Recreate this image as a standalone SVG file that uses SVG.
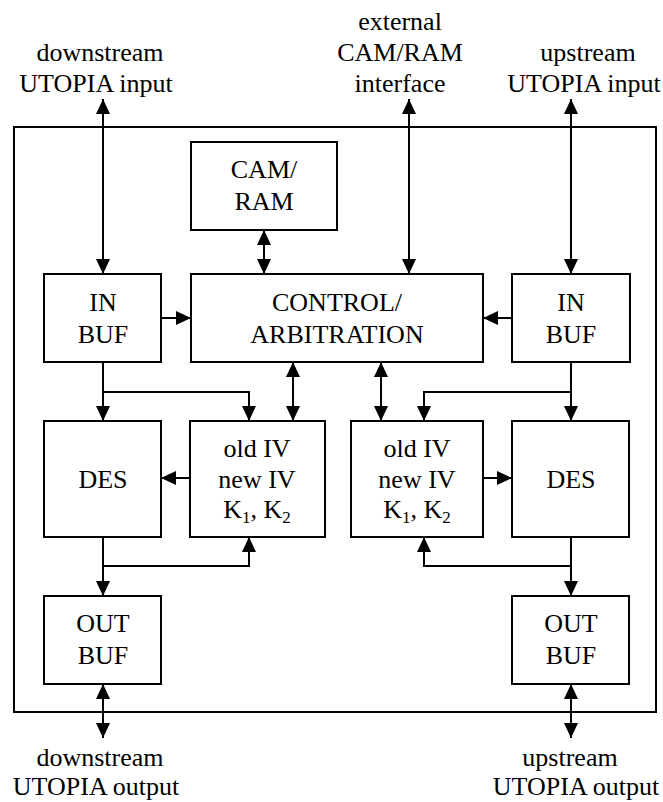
<svg xmlns="http://www.w3.org/2000/svg" width="663" height="802" viewBox="0 0 663 802" font-family="'Liberation Serif', 'DejaVu Serif', serif">
<style>
  .box { fill: #fff; stroke: #000; stroke-width: 2; }
  .frame { fill: none; stroke: #000; stroke-width: 2; }
  text { font-family: 'Liberation Serif', 'DejaVu Serif', serif; font-size: 26px; fill: #000; text-anchor: middle; }
  .sub { font-size: 17px; }
  .c { fill: none; stroke: #000; stroke-width: 2; }
  .a2 { marker-start: url(#ah); marker-end: url(#ah); }
  .a1 { marker-end: url(#ah); }
</style>
<defs>
  <marker id="ah" markerUnits="userSpaceOnUse" markerWidth="15" markerHeight="14" refX="15" refY="7" orient="auto-start-reverse" viewBox="0 0 15 14">
    <path d="M0,0 L15,7 L0,14 z" fill="#000"/>
  </marker>
</defs>
<rect width="663" height="802" fill="#fff"/>

<g id="frame">
  <rect class="frame" x="14" y="127" width="642" height="585"/>
</g>

<g id="labels">
  <text x="100" y="61">downstream</text>
  <text x="96" y="92">UTOPIA input</text>
  <text x="400" y="30">external</text>
  <text x="400" y="61">CAM/RAM</text>
  <text x="400" y="92">interface</text>
  <text x="588" y="61">upstream</text>
  <text x="584" y="92">UTOPIA input</text>
  <text x="100" y="766">downstream</text>
  <text x="96" y="795">UTOPIA output</text>
  <text x="570" y="766">upstream</text>
  <text x="576" y="795">UTOPIA output</text>
</g>

<g id="connectors">
  <line class="c a2" x1="103" y1="99" x2="103" y2="274"/>
  <line class="c a2" x1="409" y1="99" x2="409" y2="274"/>
  <line class="c a2" x1="571" y1="99" x2="571" y2="274"/>
  <line class="c a2" x1="264" y1="230" x2="264" y2="274"/>
  <line class="c a1" x1="161" y1="318" x2="191" y2="318"/>
  <line class="c a1" x1="512" y1="318" x2="483" y2="318"/>
  <line class="c a1" x1="103" y1="362" x2="103" y2="421"/>
  <polyline class="c a1" points="103,392 249,392 249,421"/>
  <line class="c a2" x1="293" y1="362" x2="293" y2="421"/>
  <line class="c a2" x1="381" y1="362" x2="381" y2="421"/>
  <line class="c a1" x1="571" y1="362" x2="571" y2="421"/>
  <polyline class="c a1" points="571,392 424,392 424,421"/>
  <line class="c a1" x1="190" y1="478" x2="161" y2="478"/>
  <line class="c a1" x1="483" y1="478" x2="512" y2="478"/>
  <line class="c a1" x1="103" y1="537" x2="103" y2="596"/>
  <polyline class="c a1" points="103,566 249,566 249,537"/>
  <line class="c a1" x1="571" y1="537" x2="571" y2="596"/>
  <polyline class="c a1" points="571,566 424,566 424,537"/>
  <line class="c a2" x1="103" y1="684" x2="103" y2="738"/>
  <line class="c a2" x1="571" y1="684" x2="571" y2="738"/>
</g>

<g id="camram">
  <rect class="box" x="191" y="142" width="146" height="88"/>
  <text x="264" y="178">CAM/</text>
  <text x="264" y="210">RAM</text>
</g>

<g id="inbuf-left">
  <rect class="box" x="44" y="274" width="117" height="88"/>
  <text x="103" y="311">IN</text>
  <text x="103" y="343">BUF</text>
</g>

<g id="control">
  <rect class="box" x="191" y="274" width="292" height="88"/>
  <text x="337" y="311">CONTROL/</text>
  <text x="337" y="343">ARBITRATION</text>
</g>

<g id="inbuf-right">
  <rect class="box" x="512" y="274" width="118" height="88"/>
  <text x="571" y="311">IN</text>
  <text x="571" y="343">BUF</text>
</g>

<g id="des-left">
  <rect class="box" x="44" y="421" width="117" height="116"/>
  <text x="103" y="488">DES</text>
</g>

<g id="keys-left">
  <rect class="box" x="190" y="421" width="135" height="116"/>
  <text x="257" y="457">old IV</text>
  <text x="257" y="488">new IV</text>
  <text x="257" y="518">K<tspan class="sub" dy="5">1</tspan><tspan dy="-5">, K</tspan><tspan class="sub" dy="5">2</tspan></text>
</g>

<g id="keys-right">
  <rect class="box" x="351" y="421" width="132" height="116"/>
  <text x="417" y="457">old IV</text>
  <text x="417" y="488">new IV</text>
  <text x="417" y="518">K<tspan class="sub" dy="5">1</tspan><tspan dy="-5">, K</tspan><tspan class="sub" dy="5">2</tspan></text>
</g>

<g id="des-right">
  <rect class="box" x="512" y="421" width="117" height="116"/>
  <text x="571" y="488">DES</text>
</g>

<g id="outbuf-left">
  <rect class="box" x="44" y="596" width="117" height="88"/>
  <text x="103" y="632">OUT</text>
  <text x="103" y="664">BUF</text>
</g>

<g id="outbuf-right">
  <rect class="box" x="512" y="596" width="117" height="88"/>
  <text x="571" y="632">OUT</text>
  <text x="571" y="664">BUF</text>
</g>
</svg>
